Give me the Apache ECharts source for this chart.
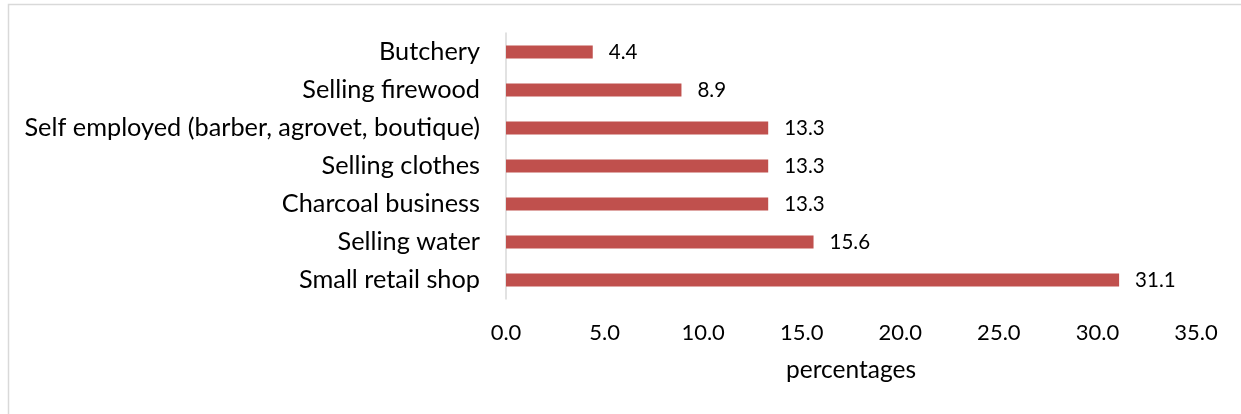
<!DOCTYPE html>
<html>
<head>
<meta charset="utf-8">
<script src="https://cdn.jsdelivr.net/npm/echarts@6/dist/echarts.min.js"></script>
<style>
  html, body { margin: 0; padding: 0; background: #fff; }
  #chart { width: 1241px; height: 414px; }
</style>
</head>
<body>
<div id="chart"></div>
<script>
// Income-generating activities, share of respondents (%)
const categories = [
  'Butchery',
  'Selling firewood',
  'Self employed (barber, agrovet, boutique)',
  'Selling clothes',
  'Charcoal business',
  'Selling water',
  'Small retail shop'
];
const values = [4.4, 8.9, 13.3, 13.3, 13.3, 15.6, 31.1];
const axisTicks = [0, 5, 10, 15, 20, 25, 30, 35];

const FONT = 'Lato';
const chart = echarts.init(document.getElementById('chart'));
chart.setOption({
  animation: false,
  textStyle: { fontFamily: FONT },
  graphic: [{
    type: 'rect',
    shape: { x: 8.5, y: 4.5, width: 1300, height: 500 },
    style: { fill: 'none', stroke: '#d9d9d9', lineWidth: 1.5 },
    silent: true
  }],
  grid: { left: 506, right: 45, top: 33, bottom: 115, containLabel: false },
  xAxis: {
    type: 'value',
    min: axisTicks[0],
    max: axisTicks[axisTicks.length - 1],
    interval: axisTicks[1] - axisTicks[0],
    axisLine: { show: false },
    axisTick: { show: false },
    splitLine: { show: false },
    axisLabel: {
      margin: 23,
      color: '#000',
      fontSize: 22,
      fontFamily: FONT,
      formatter: v => v.toFixed(1)
    },
    name: 'percentages',
    nameLocation: 'middle',
    nameGap: 59,
    nameTextStyle: { color: '#000', fontSize: 24.5, fontFamily: FONT }
  },
  yAxis: {
    type: 'category',
    data: categories,
    inverse: true,
    axisLine: { show: true, lineStyle: { color: '#d9d9d9', width: 1.5 } },
    axisTick: { show: false },
    axisLabel: { margin: 26, color: '#000', fontSize: 25.3, fontFamily: FONT }
  },
  series: [{
    type: 'bar',
    data: values,
    barWidth: 13,
    itemStyle: { color: '#c0504d' },
    label: {
      show: true,
      position: 'right',
      distance: 16,
      color: '#000',
      fontSize: 20.5,
      fontFamily: FONT,
      formatter: p => p.value.toFixed(1)
    }
  }]
});
</script>
</body>
</html>
